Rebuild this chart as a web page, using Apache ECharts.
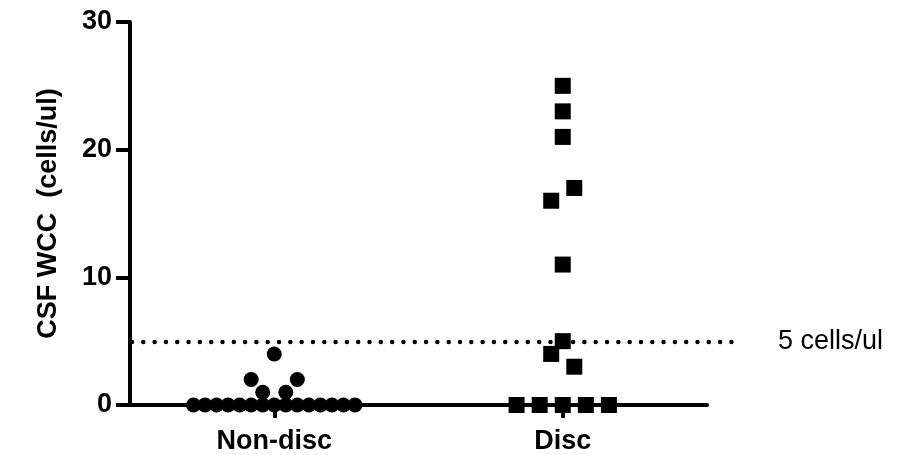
<!DOCTYPE html>
<html>
<head>
<meta charset="utf-8">
<script src="https://cdn.jsdelivr.net/npm/echarts@6/dist/echarts.min.js"></script>
<style>
  html, body { margin: 0; padding: 0; background: #fff; }
  #chart { width: 902px; height: 455px; }
</style>
</head>
<body>
<div id="chart"></div>
<script>
// Group labels and their positions on the x scale
const categories = ['Non-disc', 'Disc'];
const categoryPositions = [1, 2];

// CSF white cell counts (cells/ul) per patient
const nonDiscValues = [0, 0, 0, 0, 0, 0, 0, 0, 0, 0, 0, 0, 0, 0, 0, 1, 1, 2, 2, 4];
// Horizontal scatter of each point around its group centre (x-axis units)
const nonDiscJitter = [-0.28, -0.24, -0.20, -0.16, -0.12, -0.08, -0.04, 0, 0.04, 0.08, 0.12, 0.16, 0.20, 0.24, 0.28, -0.04, 0.04, -0.08, 0.08, 0];

const discValues = [25, 23, 21, 17, 16, 11, 5, 4, 3, 0, 0, 0, 0, 0];
const discJitter = [0, 0, 0, 0.04, -0.04, 0, 0, -0.04, 0.04, -0.16, -0.08, 0, 0.08, 0.16];

// Y axis ticks and the reference threshold
const yTicks = [0, 10, 20, 30];
const threshold = 5;
const thresholdSpan = [0.5, 2.59];
const thresholdLabel = '5 cells/ul';
const yTitle = 'CSF WCC  (cells/ul)';

const FONT = '"Liberation Sans", Arial, sans-serif';

// x range of the data axis; the threshold layer shares its scale but runs a bit further right
const xRange = [0.5, 2.5];
const plotLeft = 130, plotRight = 195, plotTop = 22, plotBottom = 49;
const plotWidth = 902 - plotLeft - plotRight;
const pxPerUnit = plotWidth / (xRange[1] - xRange[0]);
const overlayRight = plotRight - (thresholdSpan[1] - xRange[1]) * pxPerUnit;

function points(center, values, jitter) {
  return values.map((v, i) => [center + jitter[i], v]);
}

const chart = echarts.init(document.getElementById('chart'), null, { renderer: 'canvas' });

chart.setOption({
  animation: false,
  backgroundColor: '#ffffff',
  grid: [
    { left: plotLeft, right: plotRight, top: plotTop, bottom: plotBottom, containLabel: false },
    { left: plotLeft, right: overlayRight, top: plotTop, bottom: plotBottom, containLabel: false }
  ],
  xAxis: [
    {
      type: 'value',
      gridIndex: 0,
      min: xRange[0],
      max: xRange[1],
      splitLine: { show: false },
      axisLine: { show: true, onZero: true, lineStyle: { color: '#000', width: 4 } },
      axisTick: {
        show: true,
        customValues: categoryPositions,
        length: 13,
        lineStyle: { color: '#000', width: 4 }
      },
      axisLabel: {
        show: true,
        customValues: categoryPositions,
        margin: 23,
        color: '#000',
        fontFamily: FONT,
        fontWeight: 'bold',
        fontSize: 27,
        formatter: v => categories[categoryPositions.indexOf(v)] || ''
      }
    },
    {
      type: 'value',
      gridIndex: 1,
      min: thresholdSpan[0],
      max: thresholdSpan[1],
      show: false
    }
  ],
  yAxis: [
    {
      type: 'value',
      gridIndex: 0,
      min: yTicks[0],
      max: yTicks[yTicks.length - 1],
      interval: 10,
      name: yTitle,
      nameLocation: 'middle',
      nameGap: 68,
      nameTextStyle: { color: '#000', fontFamily: FONT, fontWeight: 'bold', fontSize: 27 },
      splitLine: { show: false },
      axisLine: { show: true, lineStyle: { color: '#000', width: 4 } },
      axisTick: { show: true, length: 14, lineStyle: { color: '#000', width: 4 } },
      axisLabel: {
        margin: 18,
        color: '#000',
        fontFamily: FONT,
        fontWeight: 'bold',
        fontSize: 27
      }
    },
    {
      type: 'value',
      gridIndex: 1,
      min: yTicks[0],
      max: yTicks[yTicks.length - 1],
      show: false
    }
  ],
  series: [
    {
      // dotted threshold line, running a little past the end of the x axis
      name: thresholdLabel,
      type: 'line',
      xAxisIndex: 1,
      yAxisIndex: 1,
      showSymbol: false,
      symbol: 'none',
      silent: true,
      z: 1,
      lineStyle: { color: '#000', width: 4.5, type: [0.01, 11.3], dashOffset: -2, cap: 'round' },
      endLabel: {
        show: true,
        distance: 45,
        formatter: thresholdLabel,
        color: '#000',
        fontFamily: FONT,
        fontSize: 27
      },
      data: [[thresholdSpan[0], threshold], [thresholdSpan[1], threshold]]
    },
    {
      name: categories[0],
      type: 'scatter',
      symbol: 'circle',
      symbolSize: 15,
      itemStyle: { color: '#000', opacity: 1 },
      data: points(categoryPositions[0], nonDiscValues, nonDiscJitter),
      z: 3
    },
    {
      name: categories[1],
      type: 'scatter',
      symbol: 'rect',
      symbolSize: 16,
      itemStyle: { color: '#000', opacity: 1 },
      data: points(categoryPositions[1], discValues, discJitter),
      z: 4
    }
  ]
});
</script>
</body>
</html>
